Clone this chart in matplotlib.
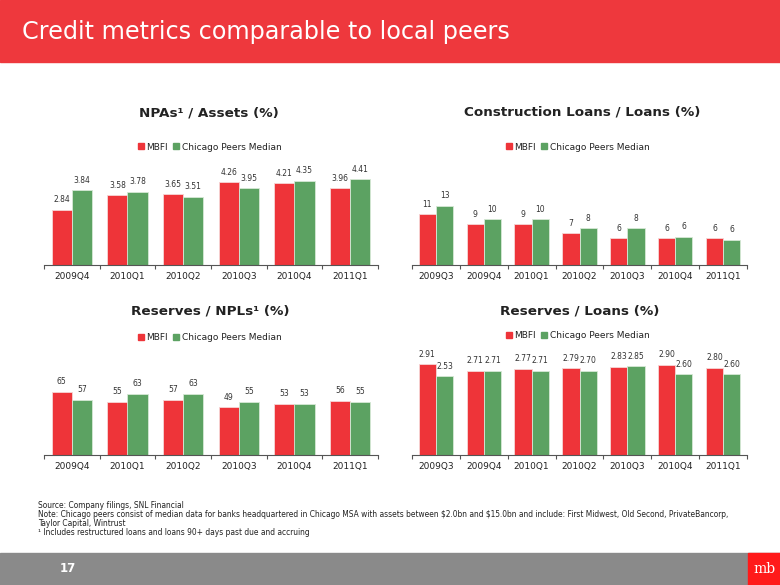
import numpy as np
import matplotlib
matplotlib.use("Agg")
import matplotlib.pyplot as plt
from matplotlib.lines import Line2D
from matplotlib.patches import Rectangle

# Chart data
npa_quarters = ["2009Q4", "2010Q1", "2010Q2", "2010Q3", "2010Q4", "2011Q1"]
npa_mbfi = [2.84, 3.58, 3.65, 4.26, 4.21, 3.96]
npa_peers = [3.84, 3.78, 3.51, 3.95, 4.35, 4.41]

constr_quarters = ["2009Q3", "2009Q4", "2010Q1", "2010Q2", "2010Q3", "2010Q4", "2011Q1"]
constr_mbfi = [11.2, 9.0, 9.0, 7.0, 5.9, 5.9, 5.9]
constr_peers = [13.0, 10.1, 10.1, 8.1, 8.1, 6.2, 5.6]

npl_quarters = ["2009Q4", "2010Q1", "2010Q2", "2010Q3", "2010Q4", "2011Q1"]
npl_mbfi = [65, 55, 57, 49, 53, 56]
npl_peers = [57, 63, 63, 55, 53, 55]

loans_quarters = ["2009Q3", "2009Q4", "2010Q1", "2010Q2", "2010Q3", "2010Q4", "2011Q1"]
loans_mbfi = [2.91, 2.71, 2.77, 2.79, 2.83, 2.90, 2.80]
loans_peers = [2.53, 2.71, 2.71, 2.70, 2.85, 2.60, 2.60]

series_names = ["MBFI", "Chicago Peers Median"]

RED = "#ee3439"
GREEN = "#5ca262"
BAND_RED = "#ee383d"
TEXT = "#222222"

W, H = 780, 585
fig = plt.figure(figsize=(W / 100, H / 100), dpi=100)


def px_box(left, top, right, bottom):
    return [left / W, 1 - bottom / H, (right - left) / W, (bottom - top) / H]


def fx(x):
    return x / W


def fy(y):
    return 1 - y / H


def draw_bar_chart(box, quarters, mbfi, peers, ymax, fmt, title, title_xy, legend_xy):
    ax = fig.add_axes(px_box(*box))
    x = np.arange(len(quarters))
    width = 0.36
    b1 = ax.bar(x - width / 2, mbfi, width, color=RED, edgecolor="#f6d6d6", linewidth=0.6)
    b2 = ax.bar(x + width / 2, peers, width, color=GREEN, edgecolor="#d6e8d6", linewidth=0.6)
    for bars, vals in ((b1, mbfi), (b2, peers)):
        for rect, v in zip(bars, vals):
            ax.annotate(fmt(v), (rect.get_x() + rect.get_width() / 2, rect.get_height()),
                        xytext=(0, 4), textcoords="offset points", ha="center", va="bottom",
                        fontsize=5.5, color="#333333", annotation_clip=False)

    ax.set_xlim(-0.5, len(quarters) - 0.5)
    ax.set_ylim(0, ymax)
    for side in ("top", "right", "left"):
        ax.spines[side].set_visible(False)
    ax.spines["bottom"].set_color("#555555")
    ax.spines["bottom"].set_linewidth(0.8)
    ax.set_yticks([])
    ax.set_xticks(x)
    ax.set_xticklabels(quarters, fontsize=6.5, color=TEXT)
    ax.tick_params(axis="x", which="major", length=0, pad=5)
    ax.set_xticks(np.arange(len(quarters) + 1) - 0.5, minor=True)
    ax.tick_params(axis="x", which="minor", length=3, color="#555555", width=0.8)

    fig.text(fx(title_xy[0]), fy(title_xy[1]), title, ha="center", va="center",
             fontsize=9.7, fontweight="bold", color=TEXT)

    handles = [Line2D([], [], marker="s", linestyle="", color=c, markersize=4)
               for c in (RED, GREEN)]
    ax.legend(handles, series_names, loc="center", ncol=2, frameon=False,
              bbox_to_anchor=(fx(legend_xy[0]), fy(legend_xy[1])),
              bbox_transform=fig.transFigure, fontsize=6.5, handlelength=0.6,
              handletextpad=0.3, columnspacing=0.6, labelcolor=TEXT)
    return ax


# Header band
fig.patches.append(Rectangle((0, fy(62)), 1, 62 / H, transform=fig.transFigure,
                             color=BAND_RED, zorder=0))
fig.text(fx(22), fy(32), "Credit metrics comparable to local peers", ha="left",
         va="center", fontsize=17.2, color="white")

draw_bar_chart((44, 165, 378, 265), npa_quarters, npa_mbfi, npa_peers, 5.15,
               lambda v: f"{v:.2f}", "NPAs¹ / Assets (%)", (209, 113), (210, 147))
draw_bar_chart((412, 165, 747, 265), constr_quarters, constr_mbfi, constr_peers, 22.0,
               lambda v: f"{v:.0f}", "Construction Loans / Loans (%)", (582, 112), (578, 147))
draw_bar_chart((44, 355, 378, 455), npl_quarters, npl_mbfi, npl_peers, 103,
               lambda v: f"{v:.0f}", "Reserves / NPLs¹ (%)", (210, 311), (210, 338))
draw_bar_chart((412, 355, 747, 455), loans_quarters, loans_mbfi, loans_peers, 3.215,
               lambda v: f"{v:.2f}", "Reserves / Loans (%)", (580, 311), (578, 336))

# Footnotes
notes = [
    "Source: Company filings, SNL Financial",
    "Note: Chicago peers consist of median data for banks headquartered in Chicago MSA with assets between \\$2.0bn and \\$15.0bn and include: First Midwest, Old Second, PrivateBancorp,",
    "Taylor Capital, Wintrust",
    "¹ Includes restructured loans and loans 90+ days past due and accruing",
]
for i, line in enumerate(notes):
    fig.text(fx(38), fy(505 + 9.2 * i), line, ha="left", va="center",
             fontsize=5.45, color=TEXT)

# Footer band
fig.patches.append(Rectangle((0, 0), 1, (H - 553) / H, transform=fig.transFigure,
                             color="#8a8a8a", zorder=0))
fig.patches.append(Rectangle((fx(748), 0), (W - 748) / W, (H - 553) / H,
                             transform=fig.transFigure, color="#ff1a1a", zorder=1))
fig.text(fx(60), fy(569), "17", ha="left", va="center", fontsize=8.5,
         fontweight="bold", color="white")
fig.text(fx(764), fy(569), "mb", ha="center", va="center", fontsize=10,
         family="DejaVu Serif", color="white")

fig.savefig("out.png", dpi=100)
